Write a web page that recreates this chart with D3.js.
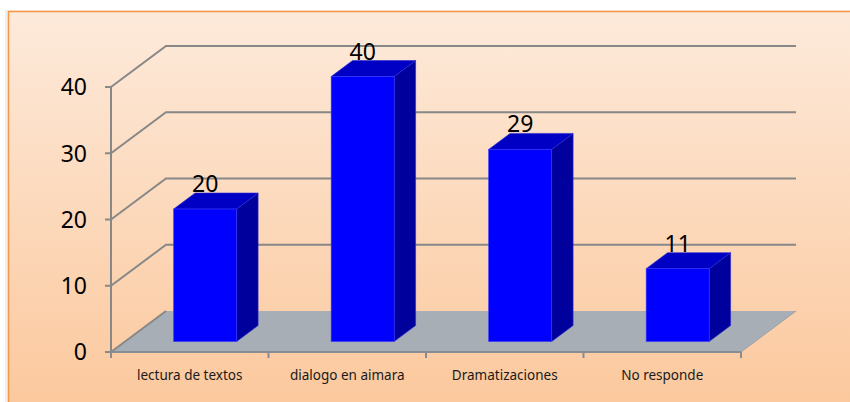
<!DOCTYPE html>
<html>
<head>
<meta charset="utf-8">
<script src="https://cdn.jsdelivr.net/npm/d3@7/dist/d3.min.js"></script>
<style>
  html, body { margin: 0; padding: 0; background: #ffffff; }
  svg { display: block; }
</style>
</head>
<body>
<svg id="chart" width="850" height="402"></svg>
<script>
// Chart data
const categories = ["lectura de textos", "dialogo en aimara", "Dramatizaciones", "No responde"];
const values = [20, 40, 29, 11];
const yTicks = [0, 10, 20, 30, 40];

const svg = d3.select("#chart");

// Background panel with vertical peach gradient
const defs = svg.append("defs");
const grad = defs.append("linearGradient").attr("id", "bg").attr("x1", 0).attr("y1", 0).attr("x2", 0).attr("y2", 1);
grad.append("stop").attr("offset", "0%").attr("stop-color", "#fdeadb");
grad.append("stop").attr("offset", "100%").attr("stop-color", "#fbbf8c");

svg.append("rect").attr("x", 5).attr("y", 10).attr("width", 900).attr("height", 500)
  .attr("fill", "#e6e6e6").attr("opacity", 0.6);
svg.append("rect").attr("x", 8.5).attr("y", 11.5).attr("width", 900).attr("height", 500)
  .attr("fill", "url(#bg)").attr("stroke", "#f79646").attr("stroke-width", 1.5);

// Oblique 3D projection: front plane plus a depth vector
const depth = { dx: 55, dy: -41 };
const x = d3.scaleBand().domain(categories).range([111, 741]).padding(0);
const y = d3.scaleLinear().domain([0, 40]).range([352, 87]);
const x0 = 111, x1 = 741;

const grid = svg.append("g");
const gridColor = "#888888";

// Side and back wall gridlines
yTicks.filter(t => t > 0).forEach(t => {
  const yy = y(t);
  grid.append("path")
    .attr("d", `M${x0},${yy} L${x0 + depth.dx},${yy + depth.dy} L${x1 + depth.dx},${yy + depth.dy}`)
    .attr("fill", "none").attr("stroke", gridColor).attr("stroke-width", 2);
});

// Floor
const yb = y(0);
svg.append("path")
  .attr("d", `M${x0},${yb} L${x0 + depth.dx},${yb + depth.dy} L${x1 + depth.dx},${yb + depth.dy} L${x1},${yb} Z`)
  .attr("fill", "#a7aeb5");
svg.append("path")
  .attr("d", `M${x0},${yb} L${x0 + depth.dx},${yb + depth.dy}`)
  .attr("stroke", gridColor).attr("stroke-width", 2);
svg.append("path")
  .attr("d", `M${x1},${yb} L${x1 + depth.dx},${yb + depth.dy}`)
  .attr("stroke", "#9aa1a8").attr("stroke-width", 1);
svg.append("line").attr("x1", x0).attr("x2", x1).attr("y1", yb).attr("y2", yb)
  .attr("stroke", "#878d93").attr("stroke-width", 2);

// Category ticks along the floor front edge
const bounds = categories.map(c => x(c)).concat([x1]);
svg.selectAll(".xtick").data(bounds).enter().append("line")
  .attr("x1", d => d).attr("x2", d => d).attr("y1", yb).attr("y2", yb + 6)
  .attr("stroke", "#878d93").attr("stroke-width", 2);

// Vertical value axis
svg.append("line").attr("x1", x0).attr("x2", x0).attr("y1", y(40)).attr("y2", yb)
  .attr("stroke", gridColor).attr("stroke-width", 2);
svg.selectAll(".ytick").data(yTicks).enter().append("line")
  .attr("x1", x0 - 6).attr("x2", x0).attr("y1", d => y(d)).attr("y2", d => y(d))
  .attr("stroke", gridColor).attr("stroke-width", 2);
svg.selectAll(".ylab").data(yTicks).enter().append("text")
  .attr("x", 87).attr("y", d => y(d)).attr("dy", "0.36em")
  .attr("text-anchor", "end")
  .attr("font-family", "'Noto Sans', sans-serif").attr("font-size", 23)
  .attr("fill", "#000").text(d => d);

// Bars as boxes
const f0 = 0.28, f1 = 0.67;
const barW = x.bandwidth() * 0.4;
const bars = svg.append("g");
categories.forEach((c, i) => {
  const v = values[i];
  const cx = x(c) + x.bandwidth() / 2;
  const fx = cx - barW / 2 + depth.dx * f0;
  const fyB = y(0) + depth.dy * f0 + 1;
  const fyT = y(v) + depth.dy * f0 + 1;
  const ddx = depth.dx * (f1 - f0), ddy = depth.dy * (f1 - f0);
  const g = bars.append("g");
  // side face
  g.append("path")
    .attr("d", `M${fx + barW},${fyT} L${fx + barW + ddx},${fyT + ddy} L${fx + barW + ddx},${fyB + ddy} L${fx + barW},${fyB} Z`)
    .attr("fill", "#00009c").attr("stroke", "#2a2ad0").attr("stroke-width", 0.6);
  // top face
  g.append("path")
    .attr("d", `M${fx},${fyT} L${fx + ddx},${fyT + ddy} L${fx + barW + ddx},${fyT + ddy} L${fx + barW},${fyT} Z`)
    .attr("fill", "#0000c4").attr("stroke", "#2a2ad0").attr("stroke-width", 0.6);
  // front face
  g.append("rect").attr("x", fx).attr("y", fyT).attr("width", barW).attr("height", fyB - fyT)
    .attr("fill", "#0000ff").attr("stroke", "#3a3aff").attr("stroke-width", 0.6);
  // value label
  g.append("text")
    .attr("x", fx + barW / 2).attr("y", fyT + ddy - 1)
    .attr("text-anchor", "middle")
    .attr("font-family", "'Noto Sans', sans-serif").attr("font-size", 23)
    .attr("fill", "#000").text(v);
});

// Category labels
svg.selectAll(".xlab").data(categories).enter().append("text")
  .attr("x", d => x(d) + x.bandwidth() / 2).attr("y", 380)
  .attr("text-anchor", "middle")
  .attr("font-family", "'Noto Sans', sans-serif").attr("font-size", 13.5)
  .attr("fill", "#1a1a1a").text(d => d);
</script>
</body>
</html>
